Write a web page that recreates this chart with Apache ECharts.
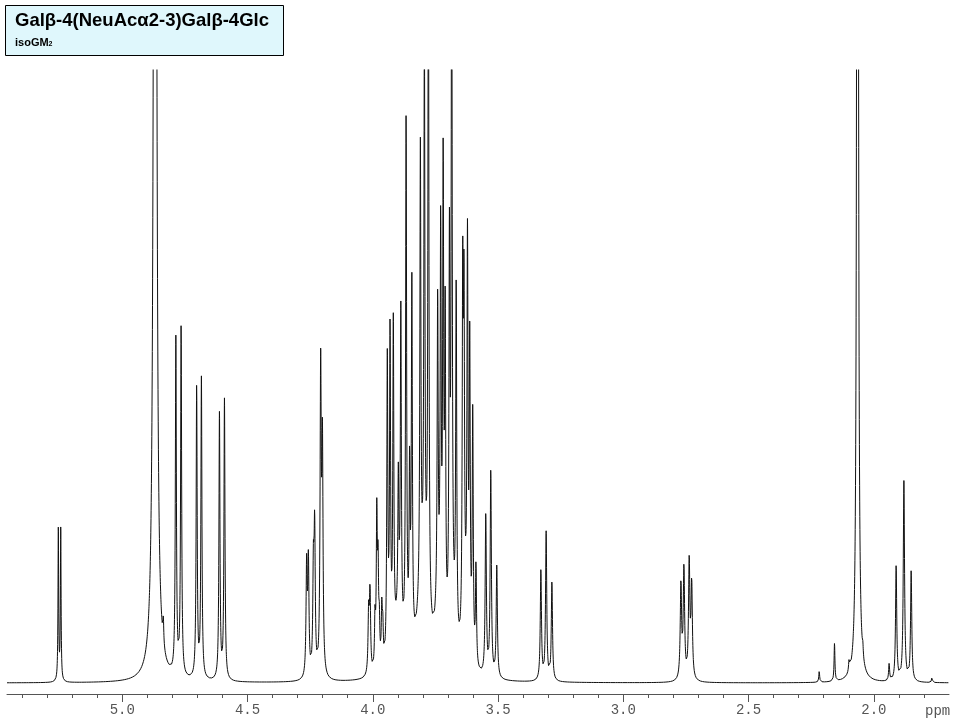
<!DOCTYPE html>
<html>
<head>
<meta charset="utf-8">
<script src="https://cdn.jsdelivr.net/npm/echarts@6/dist/echarts.min.js"></script>
<style>
html,body{margin:0;padding:0;background:#fff;}
#chart{width:960px;height:720px;}
</style>
</head>
<body>
<div id="chart"></div>
<script>
// ---- Data (peak list: shift in ppm, height, half-width in ppm)
const peakPpm = [
  5.2551, 5.2455,
  4.869, 4.836,
  4.786, 4.765,
  4.703, 4.684,
  4.612, 4.592,
  4.264, 4.257, 4.237, 4.232, 4.208, 4.201,
  4.0165, 4.011, 3.991, 3.984, 3.979, 3.974, 3.964, 3.960,
  3.942, 3.931, 3.918, 3.898, 3.888, 3.867, 3.853, 3.844,
  3.810, 3.794, 3.778, 3.741, 3.729, 3.719, 3.711,
  3.694, 3.685, 3.667, 3.641, 3.636, 3.622, 3.613, 3.601, 3.588,
  3.549, 3.529, 3.505,
  3.90, 3.80, 3.74, 3.68, 3.63,
  3.329, 3.308, 3.285,
  2.770, 2.758, 2.737, 2.727,
  2.218, 2.157, 2.099, 2.065, 2.044,
  1.939, 1.911, 1.880, 1.851, 1.768
];
const peakHeight = [
  152, 152,
  2600, 24,
  336, 350,
  292, 300,
  266, 280,
  110, 112, 100, 140, 300, 220,
  60, 80, 50, 150, 95, 40, 55, 35,
  300, 320, 320, 140, 320, 530, 170, 360,
  450, 550, 700, 310, 390, 460, 310,
  380, 720, 350, 340, 310, 390, 300, 245, 100,
  160, 205, 112,
  45, 80, 40, 35, 40,
  110, 148, 98,
  95, 110, 116, 94,
  11, 38, 11, 2500, 10,
  17, 115, 200, 110, 5
];
const peakWidth = [
  0.0016, 0.0016,
  0.0042, 0.002,
  0.0024, 0.0024,
  0.0024, 0.0024,
  0.0024, 0.0024,
  0.0028, 0.0028, 0.0028, 0.0028, 0.0028, 0.0028,
  0.0028, 0.0028, 0.0024, 0.0024, 0.0024, 0.0024, 0.0024, 0.0024,
  0.0024, 0.0024, 0.0024, 0.0024, 0.0024, 0.0024, 0.0024, 0.0024,
  0.0024, 0.0024, 0.0024, 0.0024, 0.0024, 0.0024, 0.0024,
  0.0024, 0.0024, 0.0024, 0.0024, 0.0024, 0.0024, 0.0024, 0.0024, 0.0024,
  0.0028, 0.0028, 0.0028,
  0.02, 0.025, 0.015, 0.015, 0.012,
  0.0028, 0.0028, 0.0028,
  0.0032, 0.0032, 0.0032, 0.0032,
  0.002, 0.002, 0.0024, 0.0024, 0.002,
  0.0024, 0.0028, 0.003, 0.0028, 0.002
];
const majorTicks = [2.0, 2.5, 3.0, 3.5, 4.0, 4.5, 5.0];
const minorTicks = [1.8, 1.9, 2.1, 2.2, 2.3, 2.4, 2.6, 2.7, 2.8, 2.9, 3.1, 3.2, 3.3, 3.4,
                    3.6, 3.7, 3.8, 3.9, 4.1, 4.2, 4.3, 4.4, 4.6, 4.7, 4.8, 4.9, 5.1, 5.2, 5.3, 5.4];
const ppmMin = 1.70, ppmMax = 5.46;
const titleText = 'Galβ-4(NeuAcα2-3)Galβ-4Glc';
const subtitleText = 'isoGM';
const subtitleSub = '2';

// ---- Build the spectrum trace from the peak list (Lorentzian lines)
const step = 0.0004;
const spectrum = [];
for (let p = ppmMax; p >= ppmMin - 1e-9; p -= step) {
  let v = 0;
  for (let i = 0; i < peakPpm.length; i++) {
    const d = (p - peakPpm[i]) / peakWidth[i];
    v += peakHeight[i] / (1 + d * d);
  }
  spectrum.push([+p.toFixed(4), v]);
}

const chart = echarts.init(document.getElementById('chart'), null, {renderer: 'canvas'});
const mono = '"Liberation Mono", "DejaVu Sans Mono", monospace';
chart.setOption({
  animation: false,
  backgroundColor: '#ffffff',
  grid: {left: 7, right: 11, top: 70, bottom: 26, containLabel: false},
  xAxis: [{
    type: 'value', inverse: true, min: ppmMin, max: ppmMax,
    position: 'bottom',
    splitLine: {show: false},
    axisLine: {show: true, onZero: false, lineStyle: {color: '#555', width: 1}},
    axisTick: {show: true, customValues: majorTicks, length: 8, inside: false, lineStyle: {color: '#555'}},
    axisLabel: {show: true, customValues: majorTicks, margin: 9, color: '#555',
      fontFamily: mono, fontSize: 14, formatter: v => v.toFixed(1)}
  }, {
    type: 'value', inverse: true, min: ppmMin, max: ppmMax,
    position: 'bottom',
    splitLine: {show: false},
    axisLine: {show: false, onZero: false},
    axisTick: {show: true, customValues: minorTicks, length: 4, lineStyle: {color: '#555'}},
    axisLabel: {show: false}
  }],
  yAxis: {type: 'value', min: -11, max: 613, show: false},
  series: [{
    type: 'line',
    xAxisIndex: 0,
    data: spectrum,
    showSymbol: false,
    symbol: 'none',
    sampling: null,
    clip: true,
    lineStyle: {color: '#111', width: 1},
    silent: true
  }],
  graphic: [
    {type: 'rect', left: 5, top: 5, shape: {width: 278, height: 50},
     style: {fill: '#dff7fc', stroke: '#000', lineWidth: 1}},
    {type: 'text', left: 15, top: 11,
     style: {text: titleText, font: 'bold 18.5px "Liberation Sans", Arial, sans-serif', fill: '#000'}},
    {type: 'text', left: 15, top: 37,
     style: {text: '{a|' + subtitleText + '}{s|' + subtitleSub + '}',
       rich: {a: {font: 'bold 11px "Liberation Sans", Arial, sans-serif', fill: '#000'},
              s: {font: 'bold 7px "Liberation Sans", Arial, sans-serif', fill: '#000', padding: [4, 0, 0, 0]}}}},
    {type: 'text', left: 925, top: 704,
     style: {text: 'ppm', font: '14px ' + mono, fill: '#555'}}
  ]
});
</script>
</body>
</html>
